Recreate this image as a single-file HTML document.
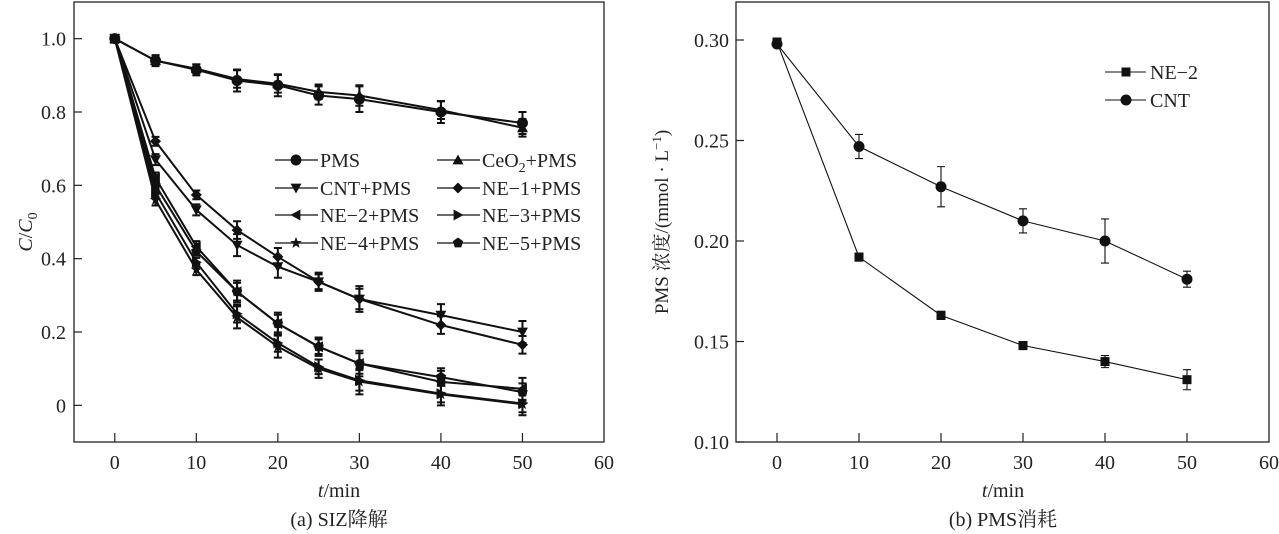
<!DOCTYPE html>
<html><head><meta charset="utf-8">
<style>
html,body{margin:0;padding:0;background:#fff;}
svg{display:block;font-family:"Liberation Serif","Noto Serif CJK SC","Noto Sans CJK SC",serif;}
</style></head>
<body>
<svg id="chart" width="1279" height="534" viewBox="0 0 1279 534" xmlns="http://www.w3.org/2000/svg">
<g id="left"></g>
<g id="right"></g>
</svg>
<script>
// ---- Chart (a) data ----
const timesA = [0, 5, 10, 15, 20, 25, 30, 40, 50];
const seriesNamesA = ["PMS", "CeO2+PMS", "CNT+PMS", "NE-1+PMS", "NE-2+PMS", "NE-3+PMS", "NE-4+PMS", "NE-5+PMS"];
const pmsVals   = [1.00, 0.94, 0.915, 0.886, 0.873, 0.845, 0.835, 0.80, 0.770];
const ceo2Vals  = [1.00, 0.94, 0.918, 0.89, 0.877, 0.855, 0.845, 0.805, 0.757];
const cntVals   = [1.00, 0.67, 0.533, 0.437, 0.378, 0.337, 0.29, 0.246, 0.200];
const ne1Vals   = [1.00, 0.72, 0.574, 0.478, 0.405, 0.337, 0.29, 0.219, 0.165];
const ne2Vals   = [1.00, 0.62, 0.433, 0.31, 0.223, 0.16, 0.114, 0.064, 0.045];
const ne3Vals   = [1.00, 0.58, 0.39, 0.25, 0.17, 0.105, 0.068, 0.032, 0.005];
const ne4Vals   = [1.00, 0.56, 0.37, 0.24, 0.16, 0.10, 0.065, 0.030, 0.003];
const ne5Vals   = [1.00, 0.60, 0.42, 0.31, 0.223, 0.16, 0.114, 0.077, 0.036];
const errA      = [0.005, 0.015, 0.015, 0.03, 0.03, 0.025, 0.035, 0.03, 0.03];
const yTicksA = [0, 0.2, 0.4, 0.6, 0.8, 1.0];
const yTickLabelsA = ["0", "0.2", "0.4", "0.6", "0.8", "1.0"];
const xTicks = [0, 10, 20, 30, 40, 50, 60];

// ---- Chart (b) data ----
const timesB = [0, 10, 20, 30, 40, 50];
const ne2B = [0.299, 0.192, 0.163, 0.148, 0.140, 0.131];
const ne2Err = [0.001, 0.002, 0.002, 0.002, 0.003, 0.005];
const cntB = [0.298, 0.247, 0.227, 0.210, 0.200, 0.181];
const cntErr = [0.001, 0.006, 0.010, 0.006, 0.011, 0.004];
const yTicksB = [0.10, 0.15, 0.20, 0.25, 0.30];
const yTickLabelsB = ["0.10", "0.15", "0.20", "0.25", "0.30"];

const NS = "http://www.w3.org/2000/svg";
const FS = 20;
function mk(parent, tag, attrs, text){
  const e = document.createElementNS(NS, tag);
  for (const k in attrs) e.setAttribute(k, attrs[k]);
  if (text !== undefined) e.textContent = text;
  parent.appendChild(e);
  return e;
}
function marker(g, type, cx, cy, s){
  let e;
  const r = s/2;
  if (type === "circle") e = mk(g, "circle", {cx, cy, r: r});
  else if (type === "square") e = mk(g, "rect", {x: cx-r+0.5, y: cy-r+0.5, width: s-1, height: s-1});
  else {
    let pts;
    if (type === "up") pts = [[0,-r],[r,r*0.8],[-r,r*0.8]];
    else if (type === "down") pts = [[0,r],[r,-r*0.8],[-r,-r*0.8]];
    else if (type === "left") pts = [[-r,0],[r*0.8,-r],[r*0.8,r]];
    else if (type === "right") pts = [[r,0],[-r*0.8,-r],[-r*0.8,r]];
    else if (type === "diamond") pts = [[0,-r],[r,0],[0,r],[-r,0]];
    else if (type === "pent") { pts=[]; for(let i=0;i<5;i++){const a=-Math.PI/2+i*2*Math.PI/5; pts.push([r*Math.cos(a), r*Math.sin(a)]);} }
    else if (type === "star") { pts=[]; for(let i=0;i<10;i++){const a=-Math.PI/2+i*Math.PI/5; const rr=i%2?r*0.45:r*1.1; pts.push([rr*Math.cos(a), rr*Math.sin(a)]);} }
    e = mk(g, "polygon", {points: pts.map(p=>(cx+p[0]).toFixed(1)+","+(cy+p[1]).toFixed(1)).join(" ")});
  }
  e.setAttribute("fill", "#111");
  return e;
}

// ===== Chart A =====
(function(){
  const g = document.getElementById("left");
  const X0 = 74, X1 = 604, Y0 = 2, Y1 = 442;
  const xs = t => X0 + (t + 5) / 65 * (X1 - X0);
  const ys = v => Y1 - (v + 0.1) / 1.2 * (Y1 - Y0);
  const frame = mk(g, "rect", {x: X0, y: Y0, width: X1-X0, height: Y1-Y0, fill: "none", stroke: "#222", "stroke-width": 1.3});
  
  
  yTicksA.forEach((v, i) => {
    const t = mk(g, "line", {x1: X0, x2: X0+8, y1: ys(v), y2: ys(v), stroke: "#222", "stroke-width": 1.2});
    
    
    const l = mk(g, "text", {x: X0-8, y: ys(v)+7, "text-anchor": "end", "font-size": FS, fill: "#222"}, yTickLabelsA[i]);
    
    
  });
  xTicks.forEach(v => {
    if (v < 60) {
      const t = mk(g, "line", {x1: xs(v), x2: xs(v), y1: Y1, y2: Y1-9, stroke: "#222", "stroke-width": 1.2});
      
      
    }
    const l = mk(g, "text", {x: xs(v), y: 469, "text-anchor": "middle", "font-size": FS, fill: "#222"}, String(v));
    
    
  });
  const xt = mk(g, "text", {x: 339, y: 497, "text-anchor": "middle", "font-size": FS, fill: "#222"});
  xt.innerHTML = '<tspan font-style="italic">t</tspan>/min';
  
  
  const cap = mk(g, "text", {x: 339, y: 526, "text-anchor": "middle", "font-size": FS, fill: "#222"}, "(a) SIZ降解");
  
  
  const yt = mk(g, "text", {x: 0, y: 0, transform: "translate(32,232) rotate(-90)", "text-anchor": "middle", "font-size": FS, fill: "#222"});
  yt.innerHTML = '<tspan font-style="italic">C</tspan>/<tspan font-style="italic">C</tspan><tspan font-size="14" dy="5">0</tspan>';
  
  

  const all = [pmsVals, ceo2Vals, cntVals, ne1Vals, ne2Vals, ne3Vals, ne4Vals, ne5Vals];
  const mks = ["circle", "up", "down", "diamond", "left", "right", "star", "pent"];
  all.forEach((vals, si) => {
    const sg = mk(g, "g", {});
    
    
    mk(sg, "polyline", {points: vals.map((v,i)=>xs(timesA[i])+","+ys(v)).join(" "), fill: "none", stroke: "#111", "stroke-width": 2});
    vals.forEach((v,i) => {
      const e = errA[i] * (si % 2 ? 0.8 : 1);
      const x = xs(timesA[i]);
      const eb = mk(sg, "path", {d: `M${x},${ys(v+e)}V${ys(v-e)}M${x-4},${ys(v+e)}H${x+4}M${x-4},${ys(v-e)}H${x+4}`, stroke: "#111", "stroke-width": 2, fill: "none"});
      
      
      const m = marker(sg, mks[si], x, ys(v), 11);
      
      
    });
  });
  const leg = mk(g, "g", {});
  
  
  const lx = [275, 437], ly = [160, 188, 215, 243];
  const labels = [["PMS", "CeO<tspan font-size='14' dy='5'>2</tspan><tspan dy='-5'>+PMS</tspan>"],["CNT+PMS","NE−1+PMS"],["NE−2+PMS","NE−3+PMS"],["NE−4+PMS","NE−5+PMS"]];
  for (let r=0;r<4;r++) for (let c=0;c<2;c++){
    const idx = r*2+c;
    const eg = mk(leg, "g", {});
    
    
    mk(eg, "line", {x1: lx[c], x2: lx[c]+43, y1: ly[r], y2: ly[r], stroke: "#111", "stroke-width": 1.3});
    marker(eg, mks[idx], lx[c]+21, ly[r], 11);
    const t = mk(eg, "text", {x: lx[c]+45, y: ly[r]+7, "font-size": FS, fill: "#222"});
    t.innerHTML = labels[r][c];
  }
})();

// ===== Chart B =====
(function(){
  const g = document.getElementById("right");
  const X0 = 736, X1 = 1269, Y0 = 2, Y1 = 442;
  const xs = t => X0 + (t + 5) / 65 * (X1 - X0);
  const ys = v => Y1 - (v - 0.10) / 0.05 * 100.5;
  const frame = mk(g, "rect", {x: X0, y: Y0, width: X1-X0, height: Y1-Y0, fill: "none", stroke: "#222", "stroke-width": 1.3});
  
  
  yTicksB.forEach((v, i) => {
    const t = mk(g, "line", {x1: X0, x2: X0+8, y1: ys(v), y2: ys(v), stroke: "#222", "stroke-width": 1.2});
    
    
    const l = mk(g, "text", {x: X0-7, y: ys(v)+7, "text-anchor": "end", "font-size": FS, fill: "#222"}, yTickLabelsB[i]);
    
    
  });
  xTicks.forEach(v => {
    if (v < 60) {
      const t = mk(g, "line", {x1: xs(v), x2: xs(v), y1: Y1, y2: Y1-9, stroke: "#222", "stroke-width": 1.2});
      
      
    }
    const l = mk(g, "text", {x: xs(v), y: 469, "text-anchor": "middle", "font-size": FS, fill: "#222"}, String(v));
    
    
  });
  const xt = mk(g, "text", {x: 1003, y: 497, "text-anchor": "middle", "font-size": FS, fill: "#222"});
  xt.innerHTML = '<tspan font-style="italic">t</tspan>/min';
  
  
  const cap = mk(g, "text", {x: 1003, y: 526, "text-anchor": "middle", "font-size": FS, fill: "#222"}, "(b) PMS消耗");
  
  
  const yt = mk(g, "text", {x: 0, y: 0, transform: "translate(668,222) rotate(-90)", "text-anchor": "middle", "font-size": 19, fill: "#222"});
  yt.innerHTML = 'PMS 浓度/(mmol · L<tspan font-size="13" dy="-7">−1</tspan><tspan dy="7">)</tspan>';
  
  

  const sets = [[ne2B, ne2Err, "square", "ne-2"], [cntB, cntErr, "circle", "cnt"]];
  sets.forEach(([vals, errs, mt, nm]) => {
    const sg = mk(g, "g", {});
    
    
    mk(sg, "polyline", {points: vals.map((v,i)=>xs(timesB[i])+","+ys(v)).join(" "), fill: "none", stroke: "#111", "stroke-width": 1.1});
    vals.forEach((v,i) => {
      const x = xs(timesB[i]), e = errs[i];
      const eb = mk(sg, "path", {d: `M${x},${ys(v+e)}V${ys(v-e)}M${x-4},${ys(v+e)}H${x+4}M${x-4},${ys(v-e)}H${x+4}`, stroke: "#111", "stroke-width": 1.1, fill: "none"});
      
      
      const m = marker(sg, mt, x, ys(v), mt === "square" ? 10 : 11);
      
      
    });
  });
  const leg = mk(g, "g", {});
  
  
  [["square", "NE−2", 72], ["circle", "CNT", 100]].forEach(([mt, txt, y]) => {
    const eg = mk(leg, "g", {});
    
    
    mk(eg, "line", {x1: 1105, x2: 1146, y1: y, y2: y, stroke: "#111", "stroke-width": 1.1});
    marker(eg, mt, 1126, y, mt === "square" ? 10 : 11);
    mk(eg, "text", {x: 1150, y: y+7, "font-size": FS, fill: "#222"}, txt);
  });
})();
</script>
</body></html>
